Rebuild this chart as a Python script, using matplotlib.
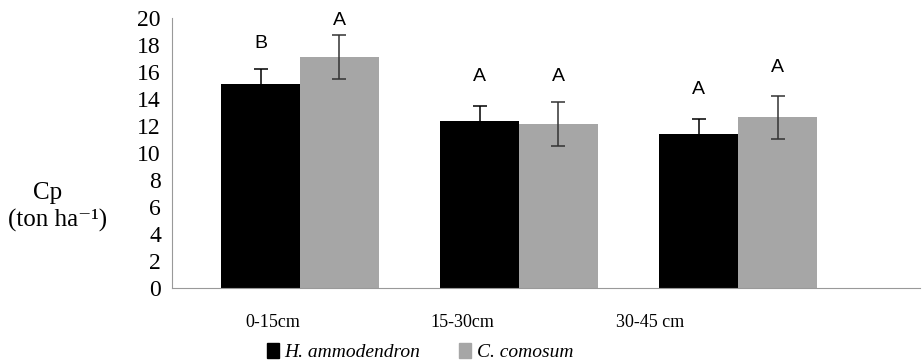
import matplotlib.pyplot as plt
import numpy as np
from matplotlib.patches import Patch

depths = ['0-15cm', '15-30cm', '30-45 cm']
species = ['H. ammodendron', 'C. comosum']
h_vals = [15.1, 12.4, 11.4]
h_err = [1.1, 1.1, 1.1]
c_vals = [17.1, 12.15, 12.65]
c_err = [1.65, 1.65, 1.6]
h_letters = ['B', 'A', 'A']
c_letters = ['A', 'A', 'A']
# letter heights
h_letter_y = [18.1, 15.7, 14.7]
c_letter_y = [19.8, 15.7, 16.3]

fig = plt.figure(figsize=(9.23, 3.63), dpi=100)
ax = fig.add_axes([172/923, 75/363, 748/923, 270/363])

x = np.arange(len(depths))
w = 0.36
ax.bar(x - w/2, h_vals, w, color='black', yerr=h_err,
       error_kw=dict(ecolor='black', elinewidth=1.1, capsize=5, capthick=1.1))
ax.bar(x + w/2, c_vals, w, color='#a6a6a6', yerr=c_err,
       error_kw=dict(ecolor='#333333', elinewidth=1.1, capsize=5, capthick=1.1))
for i in range(len(depths)):
    ax.text(x[i] - w/2, h_letter_y[i], h_letters[i], ha='center', va='center',
            fontsize=14, family='Liberation Sans', clip_on=False)
    ax.text(x[i] + w/2, c_letter_y[i], c_letters[i], ha='center', va='center',
            fontsize=14, family='Liberation Sans', clip_on=False)

ax.set_xlim(-0.584, 2.83)
ax.set_ylim(0, 20)
ax.set_yticks(np.arange(0, 21, 2))
ax.set_yticklabels([str(v) for v in range(0, 21, 2)], family='Liberation Serif', fontsize=17)
ax.set_xticks([-0.123, 0.74, 1.60])
ax.set_xticklabels(depths, family='Liberation Serif', fontsize=13)
ax.tick_params(length=0)
ax.tick_params(axis='x', pad=19)
ax.tick_params(axis='y', pad=8)
for s in ['top', 'right']:
    ax.spines[s].set_visible(False)
for s in ['left', 'bottom']:
    ax.spines[s].set_color('#999999')
    ax.spines[s].set_linewidth(0.8)

fig.text(48/923, 1 - 193/363, 'Cp', ha='center', va='center', family='Liberation Serif', fontsize=18)
fig.text(58/923, 1 - 220/363, '(ton ha\u207b\u00b9)', ha='center', va='center',
         family=['Liberation Serif', 'DejaVu Serif'], fontsize=18)

handles = [Patch(color='black'), Patch(color='#a6a6a6')]
fig.legend(handles, species, loc='center', bbox_to_anchor=(420/923, 1 - 352/363), ncol=2, frameon=False,
           prop=dict(family='Liberation Serif', style='italic', size=14),
           handlelength=0.6, handleheight=0.8, handletextpad=0.3, columnspacing=2.0)

fig.savefig('out.png', dpi=100)
